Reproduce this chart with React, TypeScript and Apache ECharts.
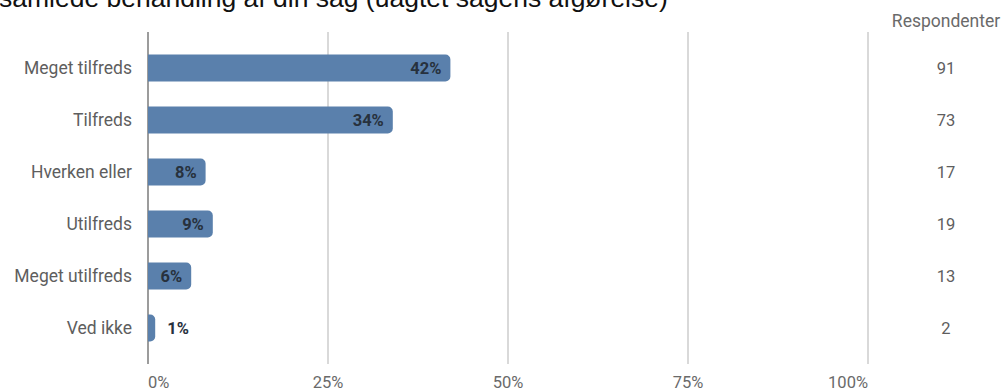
import React, { useEffect, useRef } from "react";
import * as echarts from "echarts";

const TITLE = "samlede behandling af din sag (uagtet sagens afgørelse)";
const COUNT_HEADER = "Respondenter";
const categories = ["Meget tilfreds", "Tilfreds", "Hverken eller", "Utilfreds", "Meget utilfreds", "Ved ikke"];
const percents = [42, 34, 8, 9, 6, 1];
const respondents = ["91", "73", "17", "19", "13", "2"];
const axisMin = 0;
const axisMax = 100;
const axisStep = 25;

const FONT = "Roboto, 'Noto Sans', sans-serif";

export default function App() {
  const ref = useRef<HTMLDivElement>(null);

  useEffect(() => {
    document.body.style.margin = "0";
    const chart = echarts.init(ref.current!, null, { renderer: "svg" });
    const barData = percents.map((v) =>
      v < 3 ? { value: v, label: { position: "right", distance: 12 } } : v
    );
    chart.setOption({
      animation: false,
      backgroundColor: "#ffffff",
      textStyle: { fontFamily: FONT },
      grid: [
        { left: 148, right: 136, top: 42, height: 312 },
        { left: 148, right: 136, top: 32, height: 333 },
      ],
      xAxis: [
        { gridIndex: 0, type: "value", min: axisMin, max: axisMax, interval: axisStep, show: false },
        {
          gridIndex: 1,
          type: "value",
          min: axisMin,
          max: axisMax,
          interval: axisStep,
          axisLine: { show: false },
          axisTick: { show: false },
          axisLabel: {
            formatter: "{value}%",
            color: "#6a6a6a",
            fontSize: 16.5,
            fontFamily: FONT,
            margin: 10,
            alignMinLabel: "left",
            alignMaxLabel: "right",
          },
          splitLine: {
            show: true,
            lineStyle: { color: ["#9c9c9c", "#d9d9d9", "#d9d9d9", "#d9d9d9", "#d9d9d9"], width: 2 },
          },
        },
      ],
      yAxis: [
        {
          gridIndex: 0,
          type: "category",
          data: categories,
          inverse: true,
          axisLine: { show: false },
          axisTick: { show: false },
          axisLabel: { color: "#5e5e5e", fontSize: 17.5, fontFamily: FONT, margin: 16 },
        },
        { gridIndex: 1, type: "value", show: false },
        {
          gridIndex: 0,
          type: "category",
          position: "right",
          data: respondents,
          inverse: true,
          axisLine: { show: false },
          axisTick: { show: false },
          axisLabel: { color: "#5e5e5e", fontSize: 16.5, fontFamily: FONT, margin: 78, align: "center" },
        },
      ],
      graphic: [
        {
          type: "text",
          left: -1,
          top: -16,
          style: {
            text: TITLE,
            font: "26.5px 'Liberation Sans', Arial, sans-serif",
            fill: "#111111",
          },
        },
        {
          type: "text",
          x: 946,
          y: 21,
          style: {
            text: COUNT_HEADER,
            fontSize: 17.5,
            fontFamily: FONT,
            fill: "#6a6a6a",
            align: "center",
            verticalAlign: "middle",
          },
        },
      ],
      series: [
        {
          type: "bar",
          xAxisIndex: 0,
          yAxisIndex: 0,
          data: barData,
          barWidth: 27,
          itemStyle: { color: "#5a80ac", borderRadius: [0, 5, 5, 0] },
          label: {
            show: true,
            position: "insideRight",
            distance: 9,
            formatter: "{c}%",
            color: "#27313d",
            fontWeight: "bold",
            fontSize: 16.5,
            fontFamily: FONT,
          },
        },
      ],
    });
    return () => chart.dispose();
  }, []);

  return <div ref={ref} style={{ width: 1004, height: 391 }} />;
}
